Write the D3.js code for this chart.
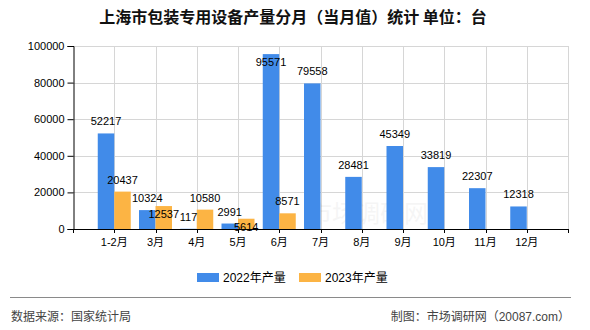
<!DOCTYPE html>
<html>
<head>
<meta charset="utf-8">
<script src="https://cdn.jsdelivr.net/npm/d3@7/dist/d3.min.js"></script>
<style>
  html, body { margin: 0; padding: 0; background: #fff; }
  svg { display: block; }
  text { font-family: "Liberation Sans", Arial, "Noto Sans CJK SC", sans-serif; }
</style>
</head>
<body>
<svg id="chart" width="590" height="330"></svg>
<script>
// Monthly production of packaging machinery in Shanghai (units)
const months = ["1-2月", "3月", "4月", "5月", "6月", "7月", "8月", "9月", "10月", "11月", "12月"];
const output2022 = [52217, 10324, 117, 2991, 95571, 79558, 28481, 45349, 33819, 22307, 12318];
const output2023 = [20437, 12537, 10580, 5614, 8571, null, null, null, null, null, null];
const yTicks = [0, 20000, 40000, 60000, 80000, 100000];
const seriesNames = ["2022年产量", "2023年产量"];
const seriesColors = ["#418be9", "#fcb444"];

const svg = d3.select("#chart");
const plotL = 73, plotR = 568, plotT = 46, plotB = 229;

const x = d3.scalePoint().domain(months).range([plotL, plotR]).padding(1);
const y = d3.scaleLinear().domain([0, 100000]).range([plotB, plotT]);
const step = x.step();
const barW = step * 0.4;

// Title
svg.append("text")
  .attr("x", 293).attr("y", 23)
  .attr("text-anchor", "middle")
  .style("font-family", "'Noto Sans CJK SC', sans-serif")
  .style("font-size", "16px").style("font-weight", "bold")
  .attr("fill", "#111")
  .text("上海市包装专用设备产量分月（当月值）统计 单位：台");

// Grid
const grid = svg.append("g").attr("stroke", "#d6d6d6").attr("stroke-width", 1);
yTicks.filter(t => t > 0).forEach(t => {
  grid.append("line").attr("x1", plotL).attr("x2", plotR)
    .attr("y1", Math.round(y(t)) + 0.5).attr("y2", Math.round(y(t)) + 0.5);
});
const vLines = [plotL].concat(months.map(m => x(m))).concat([plotR]);
vLines.slice(1).forEach(v => {
  grid.append("line").attr("x1", Math.round(v) + 0.5).attr("x2", Math.round(v) + 0.5)
    .attr("y1", plotT).attr("y2", plotB);
});

// Watermark
svg.append("text")
  .attr("x", 368).attr("y", 222)
  .attr("text-anchor", "middle")
  .style("font-family", "'Noto Sans CJK SC', sans-serif")
  .style("font-size", "24px")
  .attr("fill", "#000").attr("opacity", 0.035)
  .text("市场调研网");

// Bars
const series = [output2022, output2023];
series.forEach((vals, si) => {
  svg.append("g").selectAll("rect")
    .data(months.map((m, i) => ({ m, v: vals[i] })).filter(d => d.v != null))
    .join("rect")
    .attr("x", d => x(d.m) - barW + si * barW)
    .attr("y", d => y(d.v))
    .attr("width", barW)
    .attr("height", d => plotB - y(d.v))
    .attr("fill", seriesColors[si]);
});

// Y axis
const yAxis = svg.append("g")
  .attr("transform", `translate(${plotL + 0.5},0)`)
  .call(d3.axisLeft(y).tickValues(yTicks).tickSize(6).tickPadding(3).tickFormat(d3.format("d")));
yAxis.select(".domain").attr("stroke", "#000");
yAxis.selectAll(".tick line").attr("stroke", "#000");
yAxis.selectAll("text").style("font-size", "11px").attr("fill", "#000");

// X axis line with ticks at every grid position
const xg = svg.append("g").attr("stroke", "#000");
xg.append("line").attr("x1", plotL).attr("x2", plotR + 1)
  .attr("y1", plotB + 0.5).attr("y2", plotB + 0.5);
vLines.forEach(v => {
  xg.append("line").attr("x1", Math.round(v) + 0.5).attr("x2", Math.round(v) + 0.5)
    .attr("y1", plotB).attr("y2", plotB + 4);
});
svg.append("g").selectAll("text").data(months).join("text")
  .attr("x", d => x(d)).attr("y", plotB + 17)
  .attr("text-anchor", "middle")
  .style("font-size", "11px").attr("fill", "#000")
  .text(d => d);

// Value labels: above each bar, moved inside the bar when they would collide
const placed = [];
const charW = 6.1, lh = 11;
series.forEach((vals, si) => {
  vals.forEach((v, i) => {
    if (v == null) return;
    const cx = x(months[i]) - barW / 2 + si * barW;
    const str = String(v);
    const w = str.length * charW;
    const barTop = y(v);
    let cy = barTop - 12;
    const hits = b => Math.abs(b.cx - cx) < (b.w + w) / 2 && Math.abs(b.cy - cy) < lh;
    if (cy - lh / 2 < plotT || placed.some(hits)) cy = barTop + 8;
    placed.push({ cx, cy, w });
    svg.append("text")
      .attr("x", cx).attr("y", cy + 4)
      .attr("text-anchor", "middle")
      .style("font-size", "11px").attr("fill", "#000")
      .text(str);
  });
});

// Legend
const legend = svg.append("g");
const legendX = [197, 299];
seriesNames.forEach((name, i) => {
  legend.append("rect").attr("x", legendX[i]).attr("y", 273)
    .attr("width", 22).attr("height", 9).attr("fill", seriesColors[i]);
  legend.append("text").attr("x", legendX[i] + 26).attr("y", 282)
    .style("font-size", "12px").attr("fill", "#000").text(name);
});

// Footer
svg.append("line").attr("x1", 10).attr("x2", 571).attr("y1", 297.5).attr("y2", 297.5)
  .attr("stroke", "#8a8a8a");
svg.append("text").attr("x", 11).attr("y", 321)
  .style("font-size", "12px").attr("fill", "#444").text("数据来源：国家统计局");
svg.append("text").attr("x", 570).attr("y", 321).attr("text-anchor", "end")
  .style("font-size", "12px").attr("fill", "#444").text("制图：市场调研网（20087.com）");
</script>
</body>
</html>
